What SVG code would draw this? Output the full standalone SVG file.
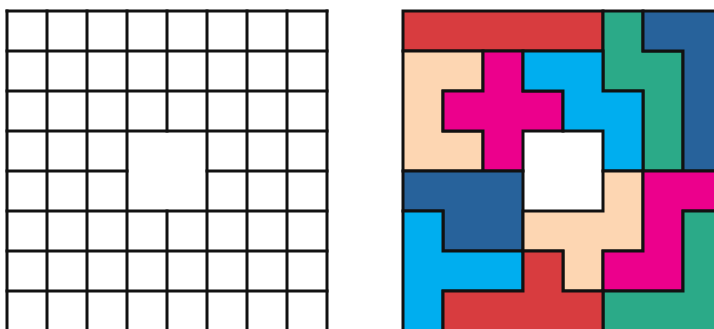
<svg xmlns="http://www.w3.org/2000/svg" width="714" height="329" viewBox="0 0 714 329">
<style>
.g{stroke:#111;stroke-width:3;fill:none;stroke-linecap:square}
.p{stroke:#111;stroke-width:3;stroke-linejoin:miter}
.red{fill:#D83C3F}.grn{fill:#2BAA88}.blu{fill:#27629B}.cyn{fill:#00AEEF}.pch{fill:#FDD6B2}.mag{fill:#EC008C}
</style>
<rect width="714" height="329" fill="#fff"/>
<g id="empty-board" class="g">
<path d="M7 11V331M47 11V331M87 11V331M127 11V331M167 11V131M167 211V331M207 11V331M247 11V331M287 11V331M327 11V331"/>
<path d="M7 11H327M7 51H327M7 91H327M7 131H327M7 171H127M207 171H327M7 211H327M7 251H327M7 291H327M7 331H327"/>
</g>
<g id="tiled-board">
<g id="piece-I"><polygon class="p red" points="403,11 603,11 603,51 403,51"/></g>
<g id="piece-N"><polygon class="p grn" points="603,11 643,11 643,51 683,51 683,171 643,171 643,91 603,91"/></g>
<g id="piece-L"><polygon class="p blu" points="643,11 723,11 723,171 683,171 683,51 643,51"/></g>
<g id="piece-U"><polygon class="p pch" points="403,51 483,51 483,91 443,91 443,131 483,131 483,171 403,171"/></g>
<g id="piece-X"><polygon class="p mag" points="483,51 523,51 523,91 563,91 563,131 523,131 523,171 483,171 483,131 443,131 443,91 483,91"/></g>
<g id="piece-W"><polygon class="p cyn" points="523,51 603,51 603,91 643,91 643,171 603,171 603,131 563,131 563,91 523,91"/></g>
<g id="piece-P"><polygon class="p blu" points="403,171 523,171 523,251 443,251 443,211 403,211"/></g>
<g id="piece-T"><polygon class="p cyn" points="403,211 443,211 443,251 523,251 523,291 443,291 443,331 403,331"/></g>
<g id="piece-F"><polygon class="p pch" points="603,171 643,171 643,251 603,251 603,291 563,291 563,251 523,251 523,211 603,211"/></g>
<g id="piece-Z"><polygon class="p mag" points="643,171 723,171 723,211 683,211 683,291 603,291 603,251 643,251"/></g>
<g id="piece-V"><polygon class="p grn" points="683,211 723,211 723,331 603,331 603,291 683,291"/></g>
<g id="piece-Y"><polygon class="p red" points="523,251 563,251 563,291 603,291 603,331 443,331 443,291 523,291"/></g>
</g>
</svg>
